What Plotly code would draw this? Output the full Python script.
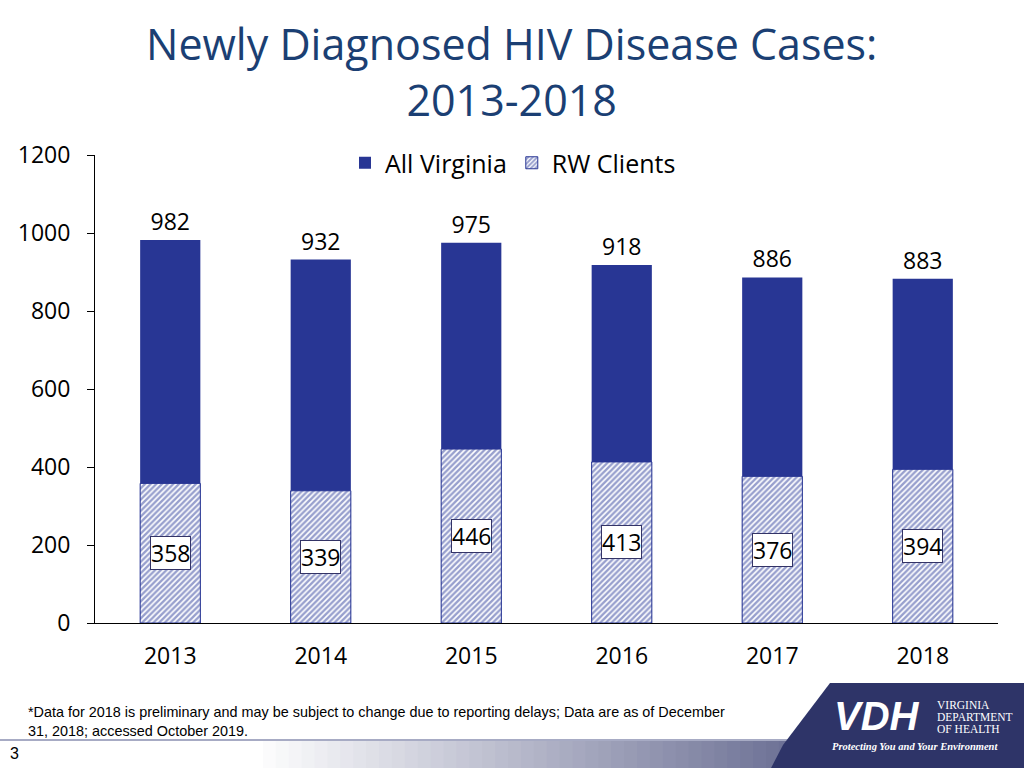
import plotly.graph_objects as go

years = ["2013", "2014", "2015", "2016", "2017", "2018"]
all_virginia = [982, 932, 975, 918, 886, 883]
rw_clients = [358, 339, 446, 413, 376, 394]

BLUE = "#283694"
NAVY = "#2E3468"
FONT = "Open Sans"

fig = go.Figure()
fig.add_trace(go.Bar(
    x=years, y=all_virginia, name="All Virginia",
    marker=dict(color=BLUE, line=dict(width=0)),
    text=[str(v) for v in all_virginia], textposition="outside",
    textfont=dict(size=23, color="black", family=FONT),
    cliponaxis=False,
))
fig.add_trace(go.Bar(
    x=years, y=rw_clients, name="RW Clients",
    marker=dict(color="white", line=dict(color=BLUE, width=1),
                pattern=dict(shape="/", fgcolor="#30409C", bgcolor="white",
                             size=4, solidity=0.6)),
))

for i, v in enumerate(rw_clients):
    fig.add_annotation(xref="x", yref="y", x=i, y=v / 2, text=str(v), showarrow=False,
                       font=dict(size=23, color="black", family=FONT),
                       bgcolor="white", bordercolor="#333366", borderwidth=1,
                       borderpad=0)

def px(x):
    return (x - 95) / 903

def py(y):
    return -(y - 623) / 468

# title
fig.add_annotation(xref="paper", yref="paper", x=px(511), y=py(12),
                   text="Newly Diagnosed HIV Disease Cases:<br>2013-2018",
                   showarrow=False, xanchor="center", yanchor="top",
                   font=dict(size=43, color="#1B3F73", family=FONT), align="center")

# footnote
fig.add_annotation(xref="paper", yref="paper", x=px(26), y=py(702),
                   xanchor="left", yanchor="top", align="left", showarrow=False,
                   text="*Data for 2018 is preliminary and may be subject to change due to reporting delays; Data are as of December<br>31, 2018; accessed October 2019.",
                   font=dict(size=14.4, color="black", family="Liberation Sans Narrow, Liberation Sans"))

shapes = []
# bottom gradient band
n = 60
x0, x1 = 250, 1024
for i in range(n):
    t = i / (n - 1)
    r = int(255 + (46 - 255) * t)
    g = int(255 + (52 - 255) * t)
    b = int(255 + (104 - 255) * t)
    xa = x0 + (x1 - x0) * i / n
    xb = x0 + (x1 - x0) * (i + 1) / n + 1
    shapes.append(dict(type="rect", xref="paper", yref="paper",
                       x0=px(xa), x1=px(xb), y0=py(770), y1=py(741),
                       fillcolor=f"rgb({r},{g},{b})", line=dict(width=0), layer="below"))
# thin line
shapes.append(dict(type="line", xref="paper", yref="paper",
                   x0=px(0), x1=px(800), y0=py(740), y1=py(740),
                   line=dict(color="#8A8FB0", width=1.5)))
# logo parallelogram
path = (f"M {px(830)} {py(683)} L {px(1030)} {py(683)} L {px(1030)} {py(770)} "
        f"L {px(770)} {py(770)} L {px(783)} {py(745)} Z")
shapes.append(dict(type="path", xref="paper", yref="paper", path=path,
                   fillcolor=NAVY, line=dict(width=0)))
fig.update_layout(shapes=shapes)

fig.add_annotation(xref="paper", yref="paper", x=px(877), y=py(716), text="<i><b>VDH</b></i>",
                   showarrow=False, font=dict(size=40, color="white", family="Liberation Sans"),
                   xanchor="center", yanchor="middle")
for txt, yy in [("VIRGINIA", 705), ("DEPARTMENT", 717), ("OF HEALTH", 729)]:
    fig.add_annotation(xref="paper", yref="paper", x=px(935), y=py(yy),
                       text=txt, showarrow=False, align="left",
                       xanchor="left", yanchor="middle",
                       font=dict(size=11.5, color="white", family="Liberation Serif"))
fig.add_annotation(xref="paper", yref="paper", x=px(915), y=py(746),
                   text="<i><b>Protecting You and Your Environment</b></i>", showarrow=False,
                   xanchor="center", yanchor="middle",
                   font=dict(size=10.5, color="white", family="Liberation Serif"))
# slide number
fig.add_annotation(xref="paper", yref="paper", x=px(8), y=py(753), text="3",
                   showarrow=False, xanchor="left", yanchor="middle",
                   font=dict(size=16, color="black", family="Liberation Sans"))

fig.update_layout(
    width=1024, height=768,
    margin=dict(l=95, r=26, t=155, b=145),
    paper_bgcolor="white", plot_bgcolor="white",
    barmode="overlay", bargap=0.6,
    showlegend=True,
    legend=dict(orientation="h", x=px(513), y=py(163), xanchor="center", yanchor="middle",
                font=dict(size=25, color="black", family=FONT), itemwidth=30,
                traceorder="normal", bgcolor="rgba(0,0,0,0)"),
    font=dict(family=FONT),
    xaxis=dict(type="category", range=[-0.5, 5.5], showline=True, linecolor="black",
               linewidth=1, ticks="", tickfont=dict(size=23, color="black"),
               showgrid=False, ticklabelstandoff=12),
    yaxis=dict(range=[0, 1200], dtick=200, showline=True, linecolor="black",
               linewidth=1, ticks="outside", ticklen=7, tickcolor="black",
               tickfont=dict(size=23, color="black"), showgrid=False, zeroline=False,
               ticklabelstandoff=12),
)
fig.write_html("out.html", config={"displayModeBar": False},
               post_script="document.body.style.margin='0';document.body.style.overflow='hidden';")
